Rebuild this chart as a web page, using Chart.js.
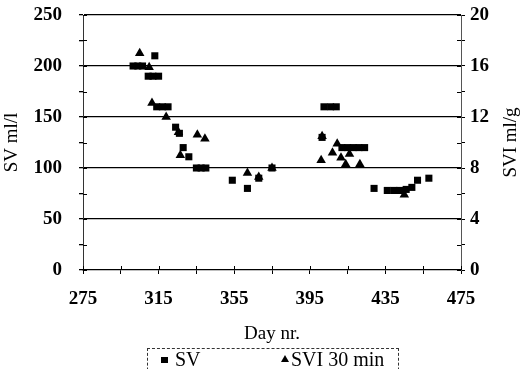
<!DOCTYPE html>
<html><head><meta charset="utf-8">
<script src="https://cdn.jsdelivr.net/npm/chart.js@4.4.0/dist/chart.umd.min.js"></script>
<style>
html,body{margin:0;padding:0;background:#fff;}
#wrap{position:relative;width:522px;height:369px;overflow:hidden;}
#legend{position:absolute;left:147px;top:348px;width:250px;height:40px;border:1px dashed #333;font-family:"Liberation Serif",serif;font-size:20px;color:#000;}
#legend .t{position:absolute;top:-1px;line-height:22px;white-space:nowrap;}
#legend .sq{position:absolute;left:13px;top:8px;width:7px;height:6px;background:#000;}
#legend .tri{position:absolute;left:133px;top:6px;width:0;height:0;border-left:4px solid transparent;border-right:4px solid transparent;border-bottom:7px solid #000;}
</style></head>
<body>
<div id="wrap">
<canvas id="c" width="522" height="369"></canvas>
<div id="legend"><span class="sq"></span><span class="t" style="left:27px">SV</span><span class="tri"></span><span class="t" style="left:143px">SVI 30 min</span></div>
</div>
<script>
// Data
const svDays   = [301.5, 304, 306.5, 313, 309.5, 312, 315, 314, 317, 320, 324, 326, 328, 331, 335, 337.5, 340, 354, 362, 368, 375,
                  401.5, 402.5, 406, 409, 412, 415, 418, 421, 424, 429, 436, 439.5, 442.5, 446, 449, 452, 458];
const svValues = [200, 200, 200, 210, 190, 190, 190, 160, 160, 160, 140, 134, 120, 111, 100, 100, 100, 88, 80, 90, 100,
                  130, 160, 160, 160, 120, 120, 120, 120, 120, 80, 78, 78, 78, 79, 81, 88, 90];
const sviDays   = [305, 310, 311.5, 319, 325.5, 326.5, 335.5, 339.5, 362, 368, 375,
                   401, 401.5, 407, 409.5, 411.5, 414, 416, 421.5, 445];
const sviValues = [17.0, 15.9, 13.1, 12.0, 10.8, 9.0, 10.6, 10.3, 7.6, 7.3, 8.0,
                   8.6, 10.5, 9.2, 9.9, 8.8, 8.3, 9.1, 8.3, 5.9];
const xTickLabels = [275, 315, 355, 395, 435, 475];
const leftTickLabels = [0, 50, 100, 150, 200, 250];
const rightTickLabels = [0, 4, 8, 12, 16, 20];

const FONT = '"Liberation Serif", "Times New Roman", serif';
const tickFont = {family: FONT, size: 19, weight: 'bold'};

const extras = {
  id: 'extras',
  afterDraw(chart) {
    const ctx = chart.ctx;
    const a = chart.chartArea;
    ctx.save();
    ctx.strokeStyle = '#000';
    ctx.lineWidth = 1;
    // inward tick marks
    const xs = chart.scales.x, yl = chart.scales.y, yr = chart.scales.y2;
    ctx.beginPath();
    xs.ticks.forEach(t => { const px = Math.round(xs.getPixelForValue(t.value)) + 0.5; ctx.moveTo(px, a.bottom); ctx.lineTo(px, a.bottom - 4); });
    yl.ticks.forEach(t => { const py = Math.round(yl.getPixelForValue(t.value)) + 0.5; ctx.moveTo(a.left, py); ctx.lineTo(a.left + 4, py); });
    yr.ticks.forEach(t => { const py = Math.round(yr.getPixelForValue(t.value)) + 0.5; ctx.moveTo(a.right, py); ctx.lineTo(a.right - 4, py); });
    ctx.stroke();
    // right axis title (reads bottom to top)
    ctx.fillStyle = '#000';
    ctx.font = '19px ' + FONT;
    ctx.textAlign = 'center';
    ctx.textBaseline = 'middle';
    ctx.translate(511, (a.top + a.bottom) / 2);
    ctx.rotate(-Math.PI / 2);
    ctx.fillText('SVI ml/g', 0, 0);
    ctx.restore();
  }
};

new Chart(document.getElementById('c'), {
  type: 'scatter',
  data: {
    datasets: [
      {label: 'SV', data: svDays.map((d, i) => ({x: d, y: svValues[i]})), yAxisID: 'y',
       pointStyle: 'rect', pointRadius: 5, pointHoverRadius: 5, backgroundColor: '#000', borderColor: '#000', borderWidth: 0},
      {label: 'SVI 30 min', data: sviDays.map((d, i) => ({x: d, y: sviValues[i]})), yAxisID: 'y2',
       pointStyle: 'triangle', pointRadius: 5.5, pointHoverRadius: 5.5, backgroundColor: '#000', borderColor: '#000', borderWidth: 0}
    ]
  },
  options: {
    responsive: false,
    animation: false,
    devicePixelRatio: 1,
    layout: {padding: {top: 15, right: 0, bottom: 20, left: 0}},
    plugins: {legend: {display: false}, tooltip: {enabled: false}},
    scales: {
      x: {
        type: 'linear', position: 'bottom', min: 275, max: 475,
        afterFit: s => { s.height = 79; s.paddingLeft = 0; s.paddingRight = 0; },
        ticks: {stepSize: 20, autoSkip: false, maxRotation: 0, color: '#000', font: tickFont, padding: 14,
                callback: v => xTickLabels.includes(v) ? String(v) : ''},
        grid: {drawOnChartArea: false, tickLength: 4, tickColor: '#000'},
        border: {color: '#000', width: 1.3},
        title: {display: true, text: 'Day nr.', color: '#000', font: {family: FONT, size: 19}, padding: {top: 4, bottom: 4}}
      },
      y: {
        position: 'left', min: 0, max: 250,
        afterFit: s => { s.width = 83; s.paddingTop = 0; s.paddingBottom = 0; },
        ticks: {stepSize: 25, autoSkip: false, color: '#000', font: tickFont, padding: 17,
                callback: v => leftTickLabels.includes(v) ? String(v) : ''},
        grid: {tickLength: 4, tickColor: '#000', lineWidth: 1.3,
               color: c => (c.tick && c.tick.value > 0 && c.tick.value % 50 === 0) ? '#000' : 'rgba(0,0,0,0)'},
        border: {color: '#333', width: 1},
        title: {display: true, text: 'SV ml/l', color: '#000', font: {family: FONT, size: 19}, padding: {top: 1, bottom: 1}}
      },
      y2: {
        position: 'right', min: 0, max: 20,
        afterFit: s => { s.width = 61; s.paddingTop = 0; s.paddingBottom = 0; },
        ticks: {stepSize: 2, autoSkip: false, color: '#000', font: tickFont, padding: 5,
                callback: v => rightTickLabels.includes(v) ? String(v) : ''},
        grid: {drawOnChartArea: false, tickLength: 4, tickColor: '#000'},
        border: {color: '#555', width: 1}
      }
    }
  },
  plugins: [extras]
});
</script>
</body></html>
